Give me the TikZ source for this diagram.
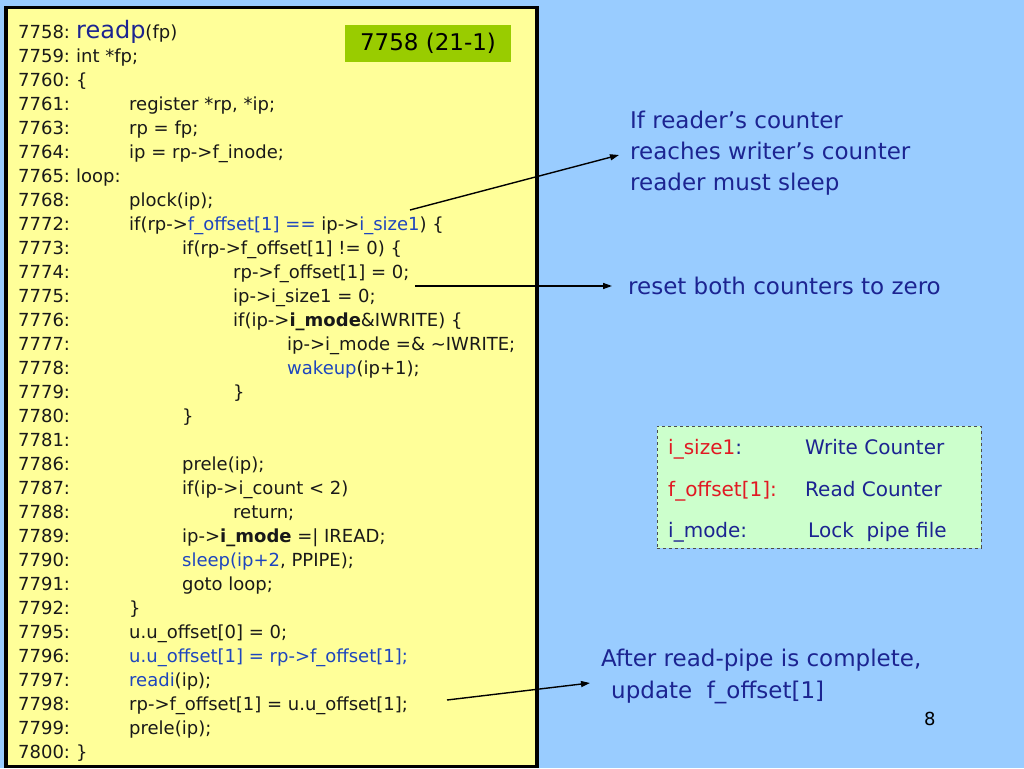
\documentclass[tikz,border=0pt]{standalone}
\usepackage{fontspec}
\setmainfont{DejaVu Sans}
\usetikzlibrary{arrows.meta}
\definecolor{bgblue}{RGB}{153,204,255}
\definecolor{codeyellow}{RGB}{255,255,153}
\definecolor{tagGreen}{RGB}{153,204,0}
\definecolor{legendGreen}{RGB}{204,255,204}
\definecolor{navy}{RGB}{28,36,145}
\definecolor{hiblue}{RGB}{30,70,190}
\definecolor{codeblack}{RGB}{25,25,25}
\definecolor{legendRed}{RGB}{225,25,35}
\newcommand{\hb}[1]{\textcolor{hiblue}{#1}}
\tikzset{
  code/.style={anchor=base west, inner sep=0pt, font=\fontsize{18}{20}\selectfont, text=codeblack},
  note/.style={anchor=base west, inner sep=0pt, font=\fontsize{23}{26}\selectfont, text=navy},
  legend/.style={anchor=base west, inner sep=0pt, font=\fontsize{20}{22}\selectfont, text=navy},
  pointer/.style={line width=1.4pt, -{Triangle[length=9pt,width=6pt]}, black}
}
\begin{document}
\begin{tikzpicture}[x=1pt,y=-1pt]
\fill[bgblue] (0,0) rectangle (1024,768);
\useasboundingbox (0,0) rectangle (1024,768);
% code panel
\draw[line width=3.5pt, fill=codeyellow] (5.75,7.75) rectangle (537,766.5);
\node[fill=tagGreen, minimum width=166pt, minimum height=37pt, inner sep=0pt,
      font=\fontsize{23}{26}\selectfont] (tag) at (428,43.5) {7758 (21-1)};
% line numbers and code
\foreach \i/\n in {0/7758,1/7759,2/7760,3/7761,4/7763,5/7764,6/7765,7/7768,8/7772,9/7773,10/7774,11/7775,12/7776,13/7777,14/7778,15/7779,16/7780,17/7781,18/7786,19/7787,20/7788,21/7789,22/7790,23/7791,24/7792,25/7795,26/7796,27/7797,28/7798,29/7799,30/7800}
  \node[code] (n\n) at (18,38.5+24*\i) {\n:};
\node[code] (c7758) at (76,38.5) {\textcolor{navy}{\fontsize{24}{26}\selectfont readp}(fp)};
\node[code] (c7759) at (76,62.5) {int *fp;};
\node[code] (c7760) at (76,86.5) {\{};
\node[code] (c7761) at (129,110.5) {register *rp, *ip;};
\node[code] (c7763) at (129,134.5) {rp = fp;};
\node[code] (c7764) at (129,158.5) {ip = rp->f\_inode;};
\node[code] (c7765) at (76,182.5) {loop:};
\node[code] (c7768) at (129,206.5) {plock(ip);};
\node[code] (c7772) at (129,230.5) {if(rp->\hb{f\_offset[1] ==} ip->\hb{i\_size1}) \{};
\node[code] (c7773) at (182,254.5) {if(rp->f\_offset[1] != 0) \{};
\node[code] (c7774) at (233,278.5) {rp->f\_offset[1] = 0;};
\node[code] (c7775) at (233,302.5) {ip->i\_size1 = 0;};
\node[code] (c7776) at (233,326.5) {if(ip->\textbf{i\_mode}\&IWRITE) \{};
\node[code] (c7777) at (287,350.5) {ip->i\_mode =\& \textasciitilde IWRITE;};
\node[code] (c7778) at (287,374.5) {\hb{wakeup}(ip+1);};
\node[code] (c7779) at (233,398.5) {\}};
\node[code] (c7780) at (182,422.5) {\}};
\node[code] (c7786) at (182,470.5) {prele(ip);};
\node[code] (c7787) at (182,494.5) {if(ip->i\_count < 2)};
\node[code] (c7788) at (233,518.5) {return;};
\node[code] (c7789) at (182,542.5) {ip->\textbf{i\_mode} =| IREAD;};
\node[code] (c7790) at (182,566.5) {\hb{sleep(ip+2}, PPIPE);};
\node[code] (c7791) at (182,590.5) {goto loop;};
\node[code] (c7792) at (129,614.5) {\}};
\node[code] (c7795) at (129,638.5) {u.u\_offset[0] = 0;};
\node[code] (c7796) at (129,662.5) {\hb{u.u\_offset[1] = rp->f\_offset[1];}};
\node[code] (c7797) at (129,686.5) {\hb{readi}(ip);};
\node[code] (c7798) at (129,710.5) {rp->f\_offset[1] = u.u\_offset[1];};
\node[code] (c7799) at (129,734.5) {prele(ip);};
\node[code] (c7800) at (76,758.5) {\}};
% notes
\node[note] (s1) at (630,128) {If reader’s counter};
\node[note] (s2) at (630,159) {reaches writer’s counter};
\node[note] (s3) at (630,190) {reader must sleep};
\node[note] (reset) at (628,294) {reset both counters to zero};
\node[note] (after1) at (601,666) {After read-pipe is complete,};
\node[note] (after2) at (611,698) {update~~f\_offset[1]};
\node[anchor=base west, inner sep=0pt, font=\fontsize{18}{20}\selectfont] (page) at (924,725) {8};
% legend
\node[draw=black!70, dashed, fill=legendGreen, line width=0.8pt, minimum width=324pt,
      minimum height=122pt, inner sep=0pt] (legendbox) at (819,487) {};
\node[legend, text=legendRed] (l1) at (668,454) {i\_size1\textcolor{navy}{:}};
\node[legend] (l1r) at (805,454) {Write Counter};
\node[legend, text=legendRed] (l2) at (668,496) {f\_offset[1]:};
\node[legend] (l2r) at (805,496) {Read Counter};
\node[legend] (l3) at (668,537) {i\_mode:};
\node[legend] (l3r) at (808,537) {Lock~~pipe file};
% connectors
\coordinate (a1) at (410,210);
\coordinate (a2) at (415,286);
\coordinate (a3) at (447,700);
\draw[pointer] (a1) -- ([xshift=-11pt,yshift=4pt]s2.base west);
\draw[pointer] (a2) -- ([xshift=-16pt,yshift=8pt]reset.base west);
\draw[pointer] (a3) -- ([xshift=-21pt,yshift=15pt]after2.base west);
\end{tikzpicture}
\end{document}
